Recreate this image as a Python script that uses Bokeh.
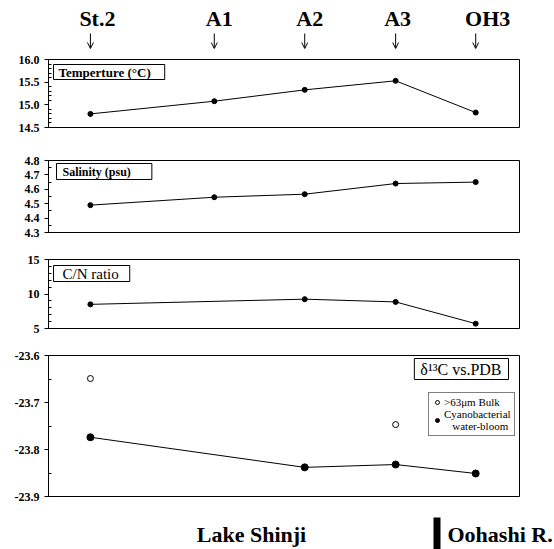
from bokeh.plotting import figure
from bokeh.layouts import column
from bokeh.models import (Range1d, FixedTicker, PrintfTickFormatter, Label, Arrow, OpenHead,
                          ColumnDataSource, Legend, LegendItem, BoxAnnotation)
from bokeh.core.properties import value
from bokeh.embed import file_html
from bokeh.resources import INLINE

# ---------------- data ----------------
stations = ["St.2", "A1", "A2", "A3", "OH3"]
station_pos = [0.89, 3.52, 5.44, 7.37, 9.07]          # position along the transect (plot units)

temperature = [14.80, 15.08, 15.33, 15.53, 14.83]     # °C
salinity = [4.49, 4.545, 4.566, 4.64, 4.65]           # psu

cn_stations = ["St.2", "A2", "A3", "OH3"]
cn_ratio = [8.5, 9.25, 8.85, 5.7]

d13c_bloom_stations = ["St.2", "A2", "A3", "OH3"]
d13c_bloom = [-23.774, -23.838, -23.832, -23.851]    # cyanobacterial water-bloom
d13c_bulk_stations = ["St.2", "A3"]
d13c_bulk = [-23.649, -23.747]                        # >63 µm bulk

region_labels = ["Lake Shinji", "Oohashi R."]

pos = dict(zip(stations, station_pos))

SERIF = "Liberation Serif"
W = 554
LEFT, RIGHT = 48, 35
X0, X1 = 0, 10


def base_fig(height, top, bottom, axes=True, left=LEFT, right=RIGHT):
    kw = dict(width=W, height=height, output_backend="svg", toolbar_location=None,
              x_range=Range1d(X0, X1), min_border_left=left, min_border_right=right,
              min_border_top=top, min_border_bottom=bottom, x_axis_location=None,
              title=None)
    if not axes:
        kw["y_axis_location"] = None
    p = figure(**kw)
    p.xgrid.visible = False
    p.ygrid.visible = False
    p.background_fill_color = "white"
    p.border_fill_color = "white"
    return p


def style_axis(p, ticks, minor, fmt):
    ax = p.yaxis[0]
    ax.ticker = FixedTicker(ticks=ticks, minor_ticks=minor)
    ax.formatter = PrintfTickFormatter(format=fmt)
    ax.major_label_text_font = SERIF
    ax.major_label_text_font_style = "bold"
    ax.major_label_text_font_size = "12px"
    ax.major_label_text_color = "black"
    ax.major_label_standoff = 5
    ax.major_tick_out = 4
    ax.major_tick_in = 0
    ax.minor_tick_in = 3
    ax.minor_tick_out = 0
    ax.axis_line_color = "black"
    ax.major_tick_line_color = "black"
    ax.minor_tick_line_color = "black"
    p.outline_line_color = "black"
    p.outline_line_width = 1


def box_label(p, x, y, text, size, bold, align, xoff, yoff, pad):
    # pad = (left, right, top, bottom)
    lab = Label(x=x, y=y, text=text, x_offset=xoff, y_offset=yoff,
                text_font=SERIF, text_font_size=size,
                text_font_style="bold" if bold else "normal",
                text_align=align, text_baseline="top", text_color="black",
                border_line_color="black", border_line_width=1,
                background_fill_color="white", padding=pad)
    p.add_layout(lab)


# ---------------- header (station names + arrows) ----------------
hdr = base_fig(52, 0, 0, axes=False)
hdr.y_range = Range1d(0, 52)
hdr.outline_line_color = None
hdr.text(x=station_pos, y=[34] * 5, text=stations, x_offset=[7, 5, 5, 2, 12],
         text_font=value(SERIF), text_font_style="bold", text_font_size="22px",
         text_align="center", text_baseline="alphabetic", text_color="black")
arr_src = ColumnDataSource(dict(x=station_pos, y0=[19] * 5, y1=[4] * 5))
hdr.add_layout(Arrow(end=OpenHead(size=6, line_width=1, line_color="black"),
                     x_start="x", y_start="y0", x_end="x", y_end="y1",
                     line_width=1, line_color="black", source=arr_src))

# ---------------- temperature ----------------
p1 = base_fig(91, 7, 16)
p1.y_range = Range1d(14.5, 16.0)
style_axis(p1, [14.5, 15.0, 15.5, 16.0], [14.6, 14.7, 14.8, 14.9, 15.1, 15.2, 15.3, 15.4,
                                          15.6, 15.7, 15.8, 15.9], "%.1f")
p1.line(station_pos, temperature, line_color="black", line_width=1)
p1.scatter(station_pos, temperature, marker="circle", size=5, color="black")
box_label(p1, X0, 16.0, "Temperture (°C)", "13px", True, "left", 5, -5, (5, 14, 0, 0))

# ---------------- salinity ----------------
p2 = base_fig(102, 17, 13)
p2.y_range = Range1d(4.3, 4.8)
style_axis(p2, [4.3, 4.4, 4.5, 4.6, 4.7, 4.8], [4.35, 4.45, 4.55, 4.65, 4.75], "%.1f")
p2.line(station_pos, salinity, line_color="black", line_width=1)
p2.scatter(station_pos, salinity, marker="circle", size=5, color="black")
box_label(p2, X0, 4.8, "Salinity (psu)", "12px", True, "left", 8, -3, (6, 21, 1, 1))

# ---------------- C/N ratio ----------------
p3 = base_fig(96, 14, 13)
p3.y_range = Range1d(5, 15)
style_axis(p3, [5, 10, 15], [6, 7, 8, 9, 11, 12, 13, 14], "%d")
cn_x = [pos[s] for s in cn_stations]
p3.line(cn_x, cn_ratio, line_color="black", line_width=1)
p3.scatter(cn_x, cn_ratio, marker="circle", size=5, color="black")
box_label(p3, X0, 15, "C/N ratio", "15px", False, "left", 5, -6, (9, 11, 0, 0))

# ---------------- delta 13C ----------------
p4 = base_fig(165, 14, 10)
p4.y_range = Range1d(-23.9, -23.6)
style_axis(p4, [-23.9, -23.8, -23.7, -23.6], [-23.85, -23.75, -23.65], "%.1f")
bx = [pos[s] for s in d13c_bloom_stations]
p4.line(bx, d13c_bloom, line_color="black", line_width=1)
r_bloom = p4.scatter(bx, d13c_bloom, marker="circle", size=7, color="black")
ux = [pos[s] for s in d13c_bulk_stations]
r_bulk = p4.scatter(ux, d13c_bulk, marker="circle", size=6, fill_color="white",
                    line_color="black", line_width=1)
box_label(p4, X1, -23.6, "δ¹³C vs.PDB", "16px", False, "right", -11, -3, (6, 7, 2, 2))

leg = Legend(items=[LegendItem(label=">63μm Bulk", renderers=[r_bulk]),
                    LegendItem(label="Cyanobacterial\n\u00a0\u00a0\u00a0water-bloom", renderers=[r_bloom])],
             location=(380, 60), orientation="vertical",
             label_text_font=SERIF, label_text_font_size="11px", label_text_color="black",
             glyph_width=10, glyph_height=12, label_standoff=2, padding=3, spacing=0,
             margin=0, border_line_color="black", border_line_width=1,
             background_fill_color="white", background_fill_alpha=1.0,
             label_height=12)
p4.add_layout(leg)

# ---------------- footer (separate root so its frame spans the full width) ----------------
ftr = base_fig(43, 0, 0, axes=False, left=0, right=0)
ftr.x_range = Range1d(0, W)
ftr.y_range = Range1d(0, 43)
ftr.outline_line_color = None
ftr.text(x=[251, 447], y=[15, 15], text=region_labels, text_align=["center", "left"],
         text_font=value(SERIF), text_font_style="bold", text_font_size="22px",
         text_baseline="alphabetic", text_color="black")
ftr.add_layout(BoxAnnotation(left=433, right=440, bottom=0, top=32, fill_color="black",
                             fill_alpha=1.0, line_color=None))

layout = column(hdr, p1, p2, p3, p4, spacing=0)
open("out.html", "w").write(file_html([layout, ftr], INLINE))
